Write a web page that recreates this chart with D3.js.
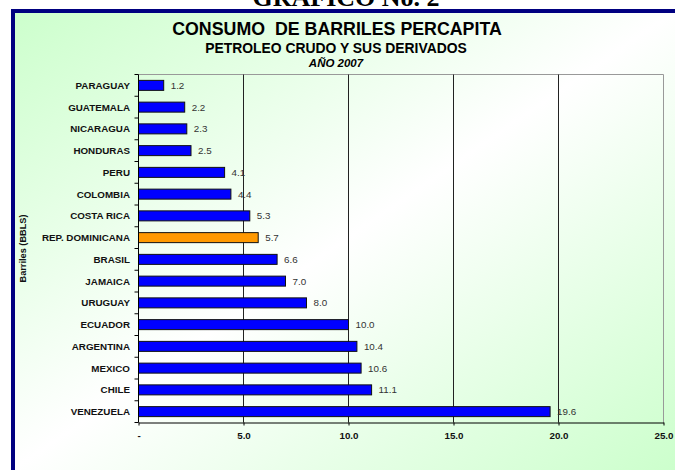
<!DOCTYPE html>
<html>
<head>
<meta charset="utf-8">
<script src="https://cdn.jsdelivr.net/npm/d3@7"></script>
<style>
  body { margin: 0; background: #fff; }
  svg { display: block; }
</style>
</head>
<body>
<div id="chart"></div>
<script>
// barrels per capita, 2007
var paises = ["PARAGUAY", "GUATEMALA", "NICARAGUA", "HONDURAS", "PERU", "COLOMBIA",
  "COSTA RICA", "REP. DOMINICANA", "BRASIL", "JAMAICA", "URUGUAY", "ECUADOR",
  "ARGENTINA", "MEXICO", "CHILE", "VENEZUELA"];
var barriles = [1.2, 2.2, 2.3, 2.5, 4.1, 4.4, 5.3, 5.7, 6.6, 7.0, 8.0, 10.0, 10.4, 10.6, 11.1, 19.6];
var xTicks = [0, 5, 10, 15, 20, 25];
var destacado = "REP. DOMINICANA";

var width = 675, height = 470;
var margin = {left: 138.5, top: 74.5, right: 11.5, bottom: 47};
var fuente = "Liberation Sans, Arial, sans-serif";

var svg = d3.select("#chart").append("svg")
  .attr("width", width)
  .attr("height", height);

var grad = svg.append("defs").append("linearGradient")
  .attr("id", "bg")
  .attr("x1", 0).attr("y1", 0).attr("x2", 1).attr("y2", 1);
grad.append("stop").attr("offset", 0).attr("stop-color", "#ccffcc");
grad.append("stop").attr("offset", 0.5).attr("stop-color", "#ffffff");
grad.append("stop").attr("offset", 1).attr("stop-color", "#ccffcc");

// chart area, navy frame on top and left
svg.append("rect")
  .attr("x", 13).attr("y", 11)
  .attr("width", width - 13).attr("height", height - 11)
  .attr("fill", "url(#bg)");
svg.append("rect").attr("x", 11).attr("y", 9).attr("width", width - 11).attr("height", 4).attr("fill", "#000080");
svg.append("rect").attr("x", 11).attr("y", 9).attr("width", 4).attr("height", height - 9).attr("fill", "#000080");

// page header, cut off at the top like in the source
svg.append("text")
  .attr("x", 346).attr("y", 6)
  .attr("text-anchor", "middle")
  .attr("font-family", "Liberation Serif, Times New Roman, serif")
  .attr("font-weight", "bold")
  .attr("font-size", 26)
  .text("GRAFICO No. 2");

// titles
svg.append("text")
  .attr("x", 337).attr("y", 34.7)
  .attr("text-anchor", "middle")
  .attr("font-family", fuente)
  .attr("font-weight", "bold")
  .attr("font-size", 17.8)
  .attr("xml:space", "preserve")
  .text("CONSUMO  DE BARRILES PERCAPITA");
svg.append("text")
  .attr("x", 336).attr("y", 53.3)
  .attr("text-anchor", "middle")
  .attr("font-family", fuente)
  .attr("font-weight", "bold")
  .attr("font-size", 13.9)
  .text("PETROLEO CRUDO Y SUS DERIVADOS");
svg.append("text")
  .attr("x", 336).attr("y", 66.7)
  .attr("text-anchor", "middle")
  .attr("font-family", fuente)
  .attr("font-weight", "bold")
  .attr("font-style", "italic")
  .attr("font-size", 11.5)
  .text("AÑO 2007");

var plotBottom = height - margin.bottom - 0.5;

var x = d3.scaleLinear()
  .domain([0, 25])
  .range([margin.left, width - margin.right]);
var y = d3.scaleBand()
  .domain(paises)
  .range([margin.top, plotBottom])
  .paddingInner(0.54)
  .paddingOuter(0.27);

// plot frame, grey top + right
svg.append("path")
  .attr("d", "M" + x(0) + "," + margin.top + "H" + x(25) + "V" + plotBottom)
  .attr("fill", "none")
  .attr("stroke", "#999");

// vertical gridlines
svg.append("g")
  .selectAll("line")
  .data(xTicks.filter(function (d) { return d > 0 && d < 25; }))
  .enter().append("line")
  .attr("x1", function (d) { return x(d); })
  .attr("x2", function (d) { return x(d); })
  .attr("y1", margin.top)
  .attr("y2", plotBottom)
  .attr("stroke", "#222");

// bars
svg.append("g")
  .selectAll("rect")
  .data(paises)
  .enter().append("rect")
  .attr("x", x(0))
  .attr("y", function (d) { return y(d); })
  .attr("width", function (d, i) { return x(barriles[i]) - x(0); })
  .attr("height", y.bandwidth())
  .attr("fill", function (d) { return d == destacado ? "#ff9900" : "#0000ff"; })
  .attr("stroke", "#111");

// value labels
svg.append("g")
  .selectAll("text")
  .data(paises)
  .enter().append("text")
  .attr("x", function (d, i) { return x(barriles[i]) + 7; })
  .attr("y", function (d) { return y(d) + y.bandwidth() / 2; })
  .attr("dy", "0.35em")
  .attr("font-family", fuente)
  .attr("font-size", 9.8)
  .attr("fill", "#333")
  .text(function (d, i) { return barriles[i].toFixed(1); });

// y axis, ticks sit between categories
var yAxis = svg.append("g");
yAxis.append("line")
  .attr("x1", x(0)).attr("x2", x(0))
  .attr("y1", margin.top).attr("y2", plotBottom)
  .attr("stroke", "#000");
yAxis.selectAll("line.tk")
  .data(d3.range(paises.length + 1))
  .enter().append("line")
  .attr("class", "tk")
  .attr("x1", x(0) - 4).attr("x2", x(0))
  .attr("y1", function (i) { return margin.top + y.step() * i; })
  .attr("y2", function (i) { return margin.top + y.step() * i; })
  .attr("stroke", "#000");
yAxis.selectAll("text")
  .data(paises)
  .enter().append("text")
  .attr("x", 130)
  .attr("y", function (d) { return y(d) + y.bandwidth() / 2; })
  .attr("dy", "0.35em")
  .attr("text-anchor", "end")
  .attr("font-family", fuente)
  .attr("font-weight", "bold")
  .attr("font-size", 9.8)
  .attr("fill", "#111")
  .text(function (d) { return d; });

// x axis
var xAxis = svg.append("g")
  .attr("transform", "translate(0," + plotBottom + ")")
  .call(d3.axisBottom(x)
    .tickValues(xTicks)
    .tickSize(3)
    .tickSizeOuter(0)
    .tickFormat(function (d) { return d == 0 ? "-" : d3.format(".1f")(d); }));
xAxis.select(".domain").attr("stroke", "#000");
xAxis.selectAll(".tick line").attr("stroke", "#000");
xAxis.selectAll(".tick text")
  .attr("y", 10)
  .attr("font-family", fuente)
  .attr("font-weight", "bold")
  .attr("font-size", 9.8)
  .attr("fill", "#111");

// y axis title
svg.append("text")
  .attr("transform", "translate(26," + (margin.top + plotBottom) / 2 + ") rotate(-90)")
  .attr("text-anchor", "middle")
  .attr("font-family", fuente)
  .attr("font-weight", "bold")
  .attr("font-size", 9.2)
  .attr("fill", "#111")
  .text("Barriles (BBLS)");
</script>
</body>
</html>
